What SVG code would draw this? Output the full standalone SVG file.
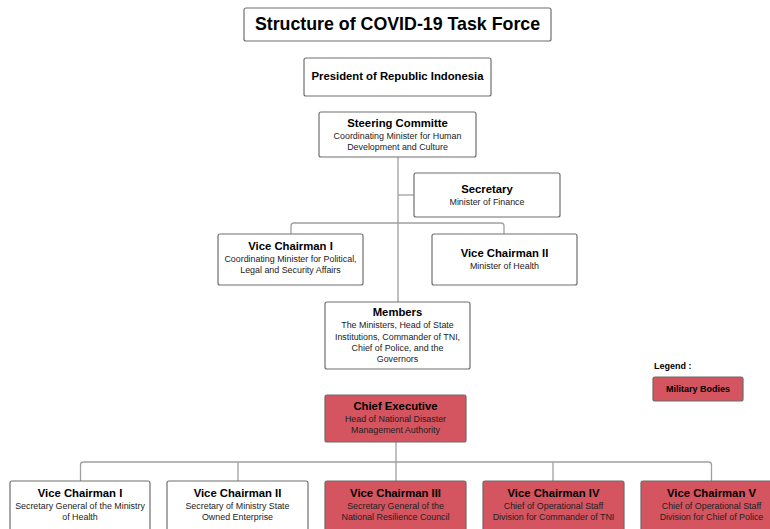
<svg xmlns="http://www.w3.org/2000/svg" width="770" height="529" viewBox="0 0 770 529">
<style>
.box{fill:#fff;stroke:#6f6f6f;stroke-width:1.2}
.mil{fill:#d4545f;stroke:#6a6a6a;stroke-width:1.2}
.h{font-family:"Liberation Sans",Arial,sans-serif;font-weight:bold;font-size:11.3px;fill:#000;text-anchor:middle}
.s{font-family:"Liberation Sans",Arial,sans-serif;font-size:8.9px;fill:#222;text-anchor:middle}
.ln{fill:none;stroke:#a0a0a0;stroke-width:1.3}
</style>
<rect width="770" height="529" fill="#fff"/>
<g id="connectors">
<path class="ln" d="M398 157 V302"/>
<path class="ln" d="M398 195 H414"/>
<path class="ln" d="M291 234 V226 Q291 223 294 223 H501 Q504 223 504 226 V234"/>
<path class="ln" d="M396 442 V462"/>
<path class="ln" d="M80.5 481 V465 Q80.5 462 83.5 462 H708.5 Q711.5 462 711.5 465 V481"/>
<path class="ln" d="M238 462 V481 M396 462 V481 M553 462 V481"/>
</g>
<g id="title">
<rect class="box" x="244" y="8" width="307" height="33" rx="2"/>
<text x="397.5" y="29.5" font-family="Liberation Sans,Arial,sans-serif" font-weight="bold" font-size="17.8" text-anchor="middle">Structure of COVID-19 Task Force</text>
</g>
<g id="president">
<rect class="box" x="304" y="58" width="187" height="38" rx="2"/>
<text class="h" x="397.5" y="80">President of Republic Indonesia</text>
</g>
<g id="steering">
<rect class="box" x="319" y="112" width="157" height="45" rx="2"/>
<text class="h" x="397.5" y="127">Steering Committe</text>
<text class="s" x="397.5" y="139">Coordinating Minister for Human</text>
<text class="s" x="397.5" y="150">Development and Culture</text>
</g>
<g id="secretary">
<rect class="box" x="414" y="173" width="146" height="44" rx="2"/>
<text class="h" x="487" y="193">Secretary</text>
<text class="s" x="487" y="205">Minister of Finance</text>
</g>
<g id="vice1">
<rect class="box" x="218" y="234" width="145" height="51" rx="2"/>
<text class="h" x="290.5" y="250">Vice Chairman I</text>
<text class="s" x="290.5" y="262">Coordinating Minister for Political,</text>
<text class="s" x="290.5" y="273">Legal and Security Affairs</text>
</g>
<g id="vice2">
<rect class="box" x="432" y="234" width="145" height="51" rx="2"/>
<text class="h" x="504.5" y="257">Vice Chairman II</text>
<text class="s" x="504.5" y="269">Minister of Health</text>
</g>
<g id="members">
<rect class="box" x="325" y="302" width="145" height="67" rx="2"/>
<text class="h" x="397.5" y="316">Members</text>
<text class="s" x="397.5" y="328">The Ministers, Head of State</text>
<text class="s" x="397.5" y="339.5">Institutions, Commander of TNI,</text>
<text class="s" x="397.5" y="351">Chief of Police, and the</text>
<text class="s" x="397.5" y="362">Governors</text>
</g>
<g id="legend">
<text x="654" y="369" font-family="Liberation Sans,Arial,sans-serif" font-weight="bold" font-size="9">Legend :</text>
<rect class="mil" x="653" y="377" width="90" height="24" rx="2"/>
<text x="698" y="392" font-family="Liberation Sans,Arial,sans-serif" font-weight="bold" font-size="9" text-anchor="middle">Military Bodies</text>
</g>
<g id="chief">
<rect class="mil" x="325" y="395" width="141" height="47" rx="2"/>
<text class="h" x="395.5" y="410">Chief Executive</text>
<text class="s" x="395.5" y="422">Head of National Disaster</text>
<text class="s" x="395.5" y="433">Management Authority</text>
</g>
<g id="b1">
<rect class="box" x="10" y="481" width="140" height="60" rx="2"/>
<text class="h" x="80" y="497">Vice Chairman I</text>
<text class="s" x="80" y="509">Secretary General of the Ministry</text>
<text class="s" x="80" y="520">of Health</text>
</g>
<g id="b2">
<rect class="box" x="167" y="481" width="141" height="60" rx="2"/>
<text class="h" x="237.5" y="497">Vice Chairman II</text>
<text class="s" x="237.5" y="509">Secretary of Ministry State</text>
<text class="s" x="237.5" y="520">Owned Enterprise</text>
</g>
<g id="b3">
<rect class="mil" x="325" y="481" width="141" height="60" rx="2"/>
<text class="h" x="395.5" y="497">Vice Chairman III</text>
<text class="s" x="395.5" y="509">Secretary General of the</text>
<text class="s" x="395.5" y="520">National Resilience Council</text>
</g>
<g id="b4">
<rect class="mil" x="483" y="481" width="141" height="60" rx="2"/>
<text class="h" x="553.5" y="497">Vice Chairman IV</text>
<text class="s" x="553.5" y="509">Chief of Operational Staff</text>
<text class="s" x="553.5" y="520">Division for Commander of TNI</text>
</g>
<g id="b5">
<rect class="mil" x="641" y="481" width="141" height="60" rx="2"/>
<text class="h" x="711.5" y="497">Vice Chairman V</text>
<text class="s" x="711.5" y="509">Chief of Operational Staff</text>
<text class="s" x="711.5" y="520">Division for Chief of Police</text>
</g>
</svg>
